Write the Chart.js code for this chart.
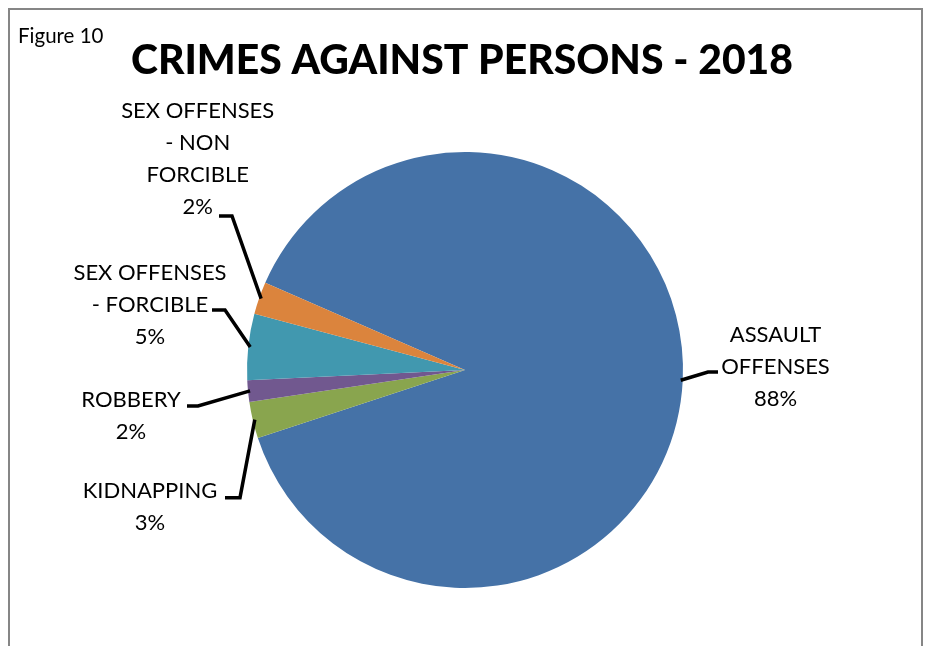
<!DOCTYPE html>
<html>
<head>
<title>Crimes Against Persons - 2018</title>
<script src="https://cdn.jsdelivr.net/npm/chart.js@4/dist/chart.umd.min.js"></script>
<style>
body { margin: 0; background: #fff; }
#wrap { width: 931px; height: 646px; }
</style>
</head>
<body>
<div id="wrap"><canvas id="pie" width="931" height="646"></canvas></div>
<script>
// data
var categories = ["ASSAULT OFFENSES", "KIDNAPPING", "ROBBERY", "SEX OFFENSES - FORCIBLE", "SEX OFFENSES - NON FORCIBLE"];
var labelLines = [["ASSAULT", "OFFENSES"], ["KIDNAPPING"], ["ROBBERY"], ["SEX OFFENSES", "- FORCIBLE"], ["SEX OFFENSES", "- NON", "FORCIBLE"]];
var values = [88.4, 2.7, 1.6, 4.9, 2.4];
var colors = ["#4572A7", "#89A54E", "#71588F", "#4198AF", "#DB843D"];

// label placement relative to pie centre: text x, first baseline y, leader elbow x / end x / y
var labelPos = [
  { tx: 310.5, ty: -28, ex: 243, hx: 253, hy: 2 },
  { tx: -315, ty: 128.3, ex: -225, hx: -240, hy: 127.7 },
  { tx: -334, ty: 36.5, ex: -267, hx: -278, hy: 36 },
  { tx: -315, ty: -90, ex: -240, hx: -253, hy: -60 },
  { tx: -267.3, ty: -251.7, ex: -233, hx: -246, hy: -154 }
];

var decor = {
  id: "decor",
  beforeDraw: function(chart) {
    var ctx = chart.ctx;
    ctx.save();
    ctx.fillStyle = "#fff";
    ctx.fillRect(0, 0, chart.width, chart.height);
    ctx.strokeStyle = "#868686";
    ctx.lineWidth = 2;
    ctx.strokeRect(9, 9, 913, 700);
    ctx.fillStyle = "#000";
    ctx.textBaseline = "alphabetic";
    ctx.font = "20.5px Lato";
    ctx.textAlign = "left";
    ctx.fillText("Figure 10", 18, 43);
    // title, fitted to the original width
    ctx.font = "900 41px Lato";
    var t = "CRIMES AGAINST PERSONS - 2018";
    var w = ctx.measureText(t).width;
    ctx.translate(462, 74);
    ctx.scale(662 / w, 1);
    ctx.textAlign = "center";
    ctx.fillText(t, 0, 0);
    ctx.restore();
  },
  afterDatasetsDraw: function(chart) {
    var ctx = chart.ctx;
    var meta = chart.getDatasetMeta(0);
    var total = values.reduce(function(a, b) { return a + b; }, 0);
    ctx.save();
    ctx.strokeStyle = "#000";
    ctx.lineWidth = 3.5;
    ctx.lineJoin = "miter";
    ctx.fillStyle = "#000";
    ctx.font = "22px Lato";
    ctx.textAlign = "center";
    ctx.textBaseline = "alphabetic";
    meta.data.forEach(function(arc, i) {
      var mid = (arc.startAngle + arc.endAngle) / 2;
      var r = arc.outerRadius - 2;
      var p = labelPos[i];
      ctx.beginPath();
      ctx.moveTo(arc.x + Math.cos(mid) * r, arc.y + Math.sin(mid) * r);
      ctx.lineTo(arc.x + p.ex, arc.y + p.hy);
      ctx.lineTo(arc.x + p.hx, arc.y + p.hy);
      ctx.stroke();
      var lines = labelLines[i].concat([Math.round(values[i] / total * 100) + "%"]);
      lines.forEach(function(s, k) {
        ctx.fillText(s, arc.x + p.tx, arc.y + p.ty + k * 32);
      });
    });
    ctx.restore();
  }
};

var chart = new Chart(document.getElementById("pie"), {
  type: "pie",
  data: {
    labels: categories,
    datasets: [{
      data: values,
      backgroundColor: colors,
      borderWidth: 0
    }]
  },
  options: {
    responsive: false,
    animation: false,
    rotation: 293.6,
    layout: { padding: { left: 247, right: 248, top: 152, bottom: 58 } },
    plugins: {
      legend: { display: false },
      tooltip: { enabled: false },
      title: { display: false }
    }
  },
  plugins: [decor]
});
</script>
</body>
</html>
